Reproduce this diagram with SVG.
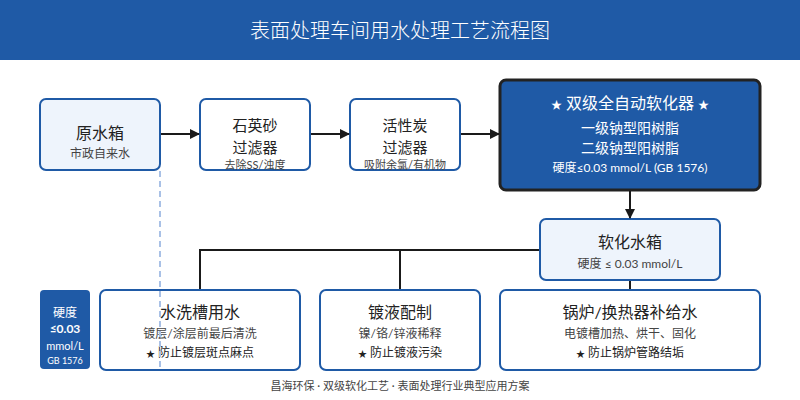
<svg xmlns="http://www.w3.org/2000/svg" width="800" height="400" viewBox="0 0 800 400">
<defs>
<marker id="arr" markerWidth="10" markerHeight="10" refX="9" refY="5" orient="auto" markerUnits="userSpaceOnUse">
<path d="M0,0 L10,5 L0,10 Z" fill="#1a1a1a"/>
</marker>
<style>
text{font-family:Lato,"Noto Sans CJK SC",sans-serif;text-anchor:middle}
.light{fill:#eef4fc;stroke:#1f5aa6;stroke-width:2}
.white{fill:#ffffff;stroke:#1f5aa6;stroke-width:2}
.t{font-size:16px;fill:#222}
.t2{font-size:15px;fill:#222}
.s{font-size:12px;fill:#444}
.xs{font-size:11px;fill:#444}
.w{fill:#ffffff}
.st{font-size:9px}
.c{stroke:#1a1a1a;stroke-width:2;fill:none}
</style>
</defs>
<rect x="0" y="0" width="800" height="400" fill="#ffffff"/>
<g id="title">
<rect x="0" y="0" width="800" height="60" fill="#1f5aa6"/>
<text x="400" y="38" class="w" style="font-size:20px;font-weight:300">表面处理车间用水处理工艺流程图</text>
</g>
<g id="raw">
<rect class="light" x="40" y="99" width="120" height="71" rx="6"/>
<text x="100" y="139" class="t">原水箱</text>
<text x="100" y="158" class="s">市政自来水</text>
</g>
<g id="sand">
<rect class="white" x="200" y="99" width="110" height="71" rx="6"/>
<text x="255" y="131" class="t2">石英砂</text>
<text x="255" y="153" class="t2">过滤器</text>
<text x="255" y="169" class="xs">去除SS/浊度</text>
</g>
<g id="carbon">
<rect class="white" x="350" y="99" width="110" height="71" rx="6"/>
<text x="405" y="131" class="t2">活性炭</text>
<text x="405" y="153" class="t2">过滤器</text>
<text x="405" y="169" class="xs">吸附余氯/有机物</text>
</g>
<g id="softener">
<rect x="500" y="80" width="260" height="110" rx="6" fill="#1f5aa6" stroke="#222" stroke-width="3"/>
<text x="630" y="109" class="w" style="font-size:16px"><tspan class="st" style="font-size:11px">★</tspan> 双级全自动软化器 <tspan class="st" style="font-size:11px">★</tspan></text>
<text x="630" y="133" class="w" style="font-size:14px">一级钠型阳树脂</text>
<text x="630" y="153" class="w" style="font-size:14px">二级钠型阳树脂</text>
<text x="630" y="172" class="w" style="font-size:12px">硬度≤0.03 mmol/L (GB 1576)</text>
</g>
<g id="softtank">
<rect class="light" x="540" y="219" width="180" height="61" rx="6"/>
<text x="630" y="248" class="t">软化水箱</text>
<text x="630" y="268" class="s">硬度 ≤ 0.03 mmol/L</text>
</g>
<g id="badge">
<rect x="40" y="290" width="50" height="79" rx="4" fill="#1f5aa6"/>
<text x="65" y="317" class="w" style="font-size:12px">硬度</text>
<text x="65" y="333" class="w" style="font-size:12px;font-weight:bold">≤0.03</text>
<text x="65" y="350" class="w" style="font-size:11px">mmol/L</text>
<text x="65" y="364" class="w" style="font-size:9px">GB 1576</text>
</g>
<g id="rinse">
<rect class="white" x="100" y="290" width="200" height="80" rx="6"/>
<text x="200" y="318" class="t">水洗槽用水</text>
<text x="200" y="338" class="s">镀层/涂层前最后清洗</text>
<text x="200" y="357" class="s" style="fill:#222"><tspan class="st">★</tspan> 防止镀层斑点麻点</text>
</g>
<g id="plating">
<rect class="white" x="320" y="290" width="160" height="80" rx="6"/>
<text x="400" y="318" class="t">镀液配制</text>
<text x="400" y="338" class="s">镍/铬/锌液稀释</text>
<text x="400" y="357" class="s" style="fill:#222"><tspan class="st">★</tspan> 防止镀液污染</text>
</g>
<g id="boiler">
<rect class="white" x="500" y="290" width="260" height="80" rx="6"/>
<text x="630" y="318" class="t">锅炉/换热器补给水</text>
<text x="630" y="338" class="s">电镀槽加热、烘干、固化</text>
<text x="630" y="357" class="s" style="fill:#222"><tspan class="st">★</tspan> 防止锅炉管路结垢</text>
</g>
<g id="connectors">
<line class="c" x1="161" y1="134" x2="199" y2="134" marker-end="url(#arr)"/>
<line class="c" x1="311" y1="134" x2="349" y2="134" marker-end="url(#arr)"/>
<line class="c" x1="461" y1="134" x2="499" y2="134" marker-end="url(#arr)"/>
<line class="c" x1="630" y1="191" x2="630" y2="218" marker-end="url(#arr)"/>
<polyline class="c" points="539,250 200,250 200,289"/>
<line class="c" x1="400" y1="250" x2="400" y2="289"/>
<line class="c" x1="630" y1="281" x2="630" y2="289"/>
<line x1="160" y1="171" x2="160" y2="370" stroke="#a9c1e6" stroke-width="2" stroke-dasharray="6,4"/>
</g>
<g id="footer">
<text x="400" y="390" class="xs">昌海环保 · 双级软化工艺 · 表面处理行业典型应用方案</text>
</g>
</svg>
